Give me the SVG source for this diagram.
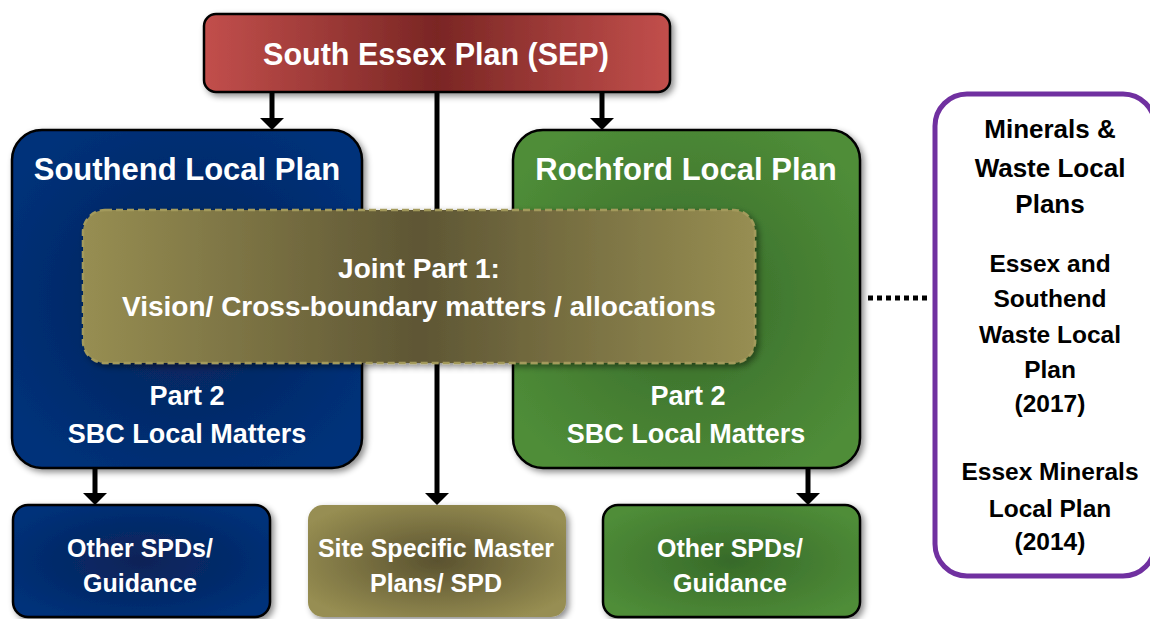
<svg xmlns="http://www.w3.org/2000/svg" width="1150" height="619" viewBox="0 0 1150 619">
  <style>
    .t { font-family: "Liberation Sans", Arial, sans-serif; font-weight: bold; text-anchor: middle; fill: #ffffff; }
    .k { font-family: "Liberation Sans", Arial, sans-serif; font-weight: bold; text-anchor: middle; fill: #000000; }
    .box { stroke: #000000; stroke-width: 2.5; }
    .conn { stroke: #000000; stroke-width: 5; fill: none; }
  </style>
  <defs>
    <filter id="sh" x="-10%" y="-10%" width="125%" height="130%">
      <feDropShadow dx="3" dy="3" stdDeviation="3" flood-color="#000000" flood-opacity="0.45"/>
    </filter>
    <linearGradient id="gRed" x1="0" y1="0" x2="1" y2="0">
      <stop offset="0" stop-color="#c24f4c"/>
      <stop offset="0.5" stop-color="#7a2624"/>
      <stop offset="1" stop-color="#c24f4c"/>
    </linearGradient>
    <radialGradient id="gBlue" cx="0.5" cy="0.5" r="0.6">
      <stop offset="0" stop-color="#0b2357"/>
      <stop offset="1" stop-color="#00317a"/>
    </radialGradient>
    <radialGradient id="gGreen" cx="0.5" cy="0.5" r="0.6">
      <stop offset="0" stop-color="#376a29"/>
      <stop offset="1" stop-color="#4f8d38"/>
    </radialGradient>
    <linearGradient id="gOlive" x1="0" y1="0" x2="1" y2="0">
      <stop offset="0" stop-color="#978e52"/>
      <stop offset="0.5" stop-color="#5e5634"/>
      <stop offset="1" stop-color="#978e52"/>
    </linearGradient>
    <radialGradient id="gOliveR" cx="0.5" cy="0.5" r="0.6">
      <stop offset="0" stop-color="#5a522f"/>
      <stop offset="1" stop-color="#978e52"/>
    </radialGradient>
    <marker id="ah" markerUnits="userSpaceOnUse" markerWidth="12" markerHeight="24" viewBox="0 0 12 24" refX="0" refY="12" orient="auto">
      <path d="M0,0 L12,12 L0,24 Z" fill="#000000"/>
    </marker>
  </defs>

  <g id="connectors">
    <line class="conn" x1="272" y1="92" x2="272" y2="118" marker-end="url(#ah)"/>
    <line class="conn" x1="602" y1="92" x2="602" y2="118" marker-end="url(#ah)"/>
    <line class="conn" x1="437" y1="92" x2="437" y2="493" marker-end="url(#ah)"/>
    <line class="conn" x1="95" y1="468" x2="95" y2="493" marker-end="url(#ah)"/>
    <line class="conn" x1="808" y1="468" x2="808" y2="493" marker-end="url(#ah)"/>
    <line class="conn" x1="868" y1="298" x2="929" y2="298" stroke-dasharray="5 4"/>
  </g>

  <g id="sep">
    <rect class="box" x="204" y="14" width="466" height="78" rx="12" fill="url(#gRed)" filter="url(#sh)"/>
    <text class="t" x="436" y="65" font-size="30.5">South Essex Plan (SEP)</text>
  </g>

  <g id="southend">
    <rect class="box" x="12" y="130" width="350" height="338" rx="30" fill="url(#gBlue)" filter="url(#sh)"/>
    <text class="t" x="187" y="180" font-size="31">Southend Local Plan</text>
    <text class="t" x="187" y="405" font-size="27">Part 2</text>
    <text class="t" x="187" y="443" font-size="27">SBC Local Matters</text>
  </g>

  <g id="rochford">
    <rect class="box" x="513" y="130" width="347" height="338" rx="30" fill="url(#gGreen)" filter="url(#sh)"/>
    <text class="t" x="686" y="180" font-size="31">Rochford Local Plan</text>
    <text class="t" x="688" y="405" font-size="27">Part 2</text>
    <text class="t" x="686" y="443" font-size="27">SBC Local Matters</text>
  </g>

  <g id="joint">
    <rect x="83" y="210" width="672" height="153" rx="22" fill="url(#gOlive)" stroke="#a39a5c" stroke-width="2.5" stroke-dasharray="7 4" filter="url(#sh)"/>
    <text class="t" x="419" y="278" font-size="28">Joint Part 1:</text>
    <text class="t" x="419" y="316" font-size="28">Vision/ Cross-boundary matters / allocations</text>
  </g>

  <g id="southend-spd">
    <rect class="box" x="13" y="505" width="257" height="112" rx="15" fill="url(#gBlue)" filter="url(#sh)"/>
    <text class="t" x="140" y="557" font-size="25">Other SPDs/</text>
    <text class="t" x="140" y="592" font-size="25">Guidance</text>
  </g>

  <g id="site-spd">
    <rect x="308" y="505" width="258" height="112" rx="15" fill="url(#gOliveR)" filter="url(#sh)"/>
    <text class="t" x="436" y="557" font-size="25">Site Specific Master</text>
    <text class="t" x="436" y="592" font-size="25">Plans/ SPD</text>
  </g>

  <g id="rochford-spd">
    <rect class="box" x="603" y="505" width="257" height="112" rx="15" fill="url(#gGreen)" filter="url(#sh)"/>
    <text class="t" x="730" y="557" font-size="25">Other SPDs/</text>
    <text class="t" x="730" y="592" font-size="25">Guidance</text>
  </g>

  <g id="minerals-waste">
    <rect x="935" y="94" width="220" height="482" rx="32" fill="#ffffff" stroke="#7030a0" stroke-width="5"/>
    <text class="k" x="1050" y="138" font-size="26">Minerals &amp;</text>
    <text class="k" x="1050" y="177" font-size="26">Waste Local</text>
    <text class="k" x="1050" y="213" font-size="26">Plans</text>
    <text class="k" x="1050" y="272" font-size="24.5">Essex and</text>
    <text class="k" x="1050" y="307" font-size="24.5">Southend</text>
    <text class="k" x="1050" y="343" font-size="24.5">Waste Local</text>
    <text class="k" x="1050" y="378" font-size="24.5">Plan</text>
    <text class="k" x="1050" y="412" font-size="24.5">(2017)</text>
    <text class="k" x="1050" y="480" font-size="24.5">Essex Minerals</text>
    <text class="k" x="1050" y="517" font-size="24.5">Local Plan</text>
    <text class="k" x="1050" y="550" font-size="24.5">(2014)</text>
  </g>
</svg>
